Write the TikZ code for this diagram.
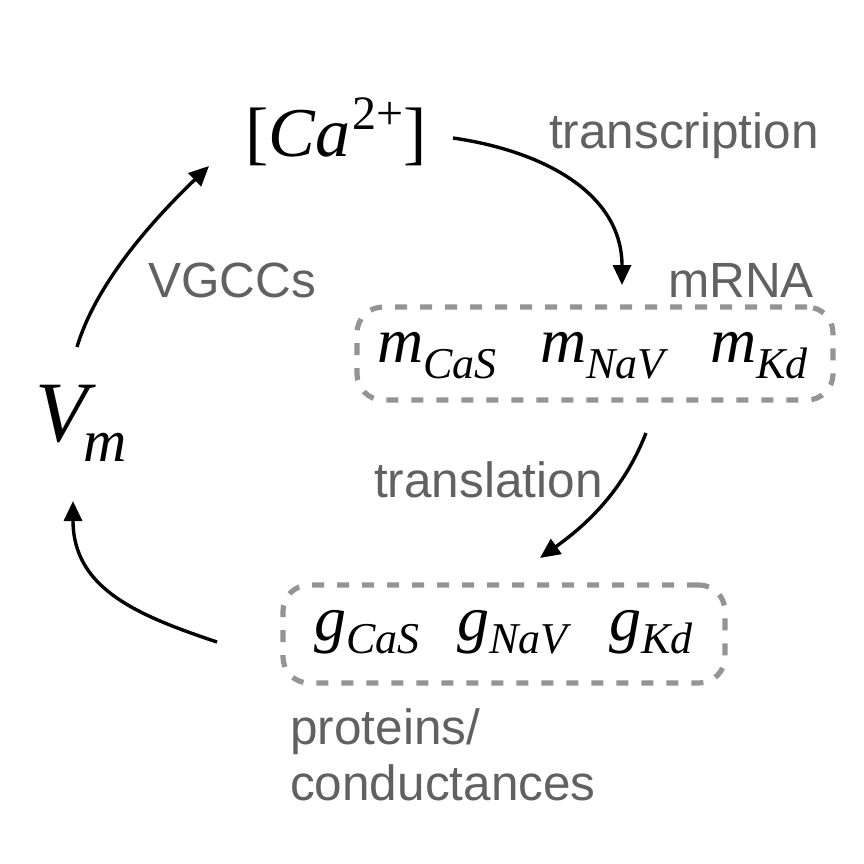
\documentclass[tikz,border=0pt]{standalone}
\usepackage{fontspec}
\setmainfont{Liberation Serif}
\newfontfamily\labfont{Liberation Sans}
\usetikzlibrary{arrows.meta}
\newcommand\mysymsub[3]{{\fontsize{64}{64}\selectfont\itshape #1\raisebox{-#3}{\fontsize{44}{44}\selectfont\itshape #2}}}
\begin{document}
\begin{tikzpicture}[x=1pt,y=-1pt,
  lbl/.style={anchor=base west, inner sep=0pt, text=black!62, font=\labfont\fontsize{49.5}{49.5}\selectfont},
  sym/.style={anchor=base west, inner sep=0pt},
  grp/.style={draw=black!42, line width=5.2pt, dash pattern=on 12pt off 13pt, rounded corners=26pt, inner sep=0pt},
  flow/.style={-{Triangle[length=20pt,width=18pt]}, line width=3.4pt, black}
]
\useasboundingbox (0,0) rectangle (864,864);

% main symbols
\node[sym] (ca) at (245,156) {\fontsize{70}{70}\selectfont [\textit{Ca}\kern2pt\raisebox{27pt}{\fontsize{48}{48}\selectfont 2+}]};
\node[sym] (vm) at (35,441) {\fontsize{86}{86}\selectfont\itshape V\kern-4pt\raisebox{-20pt}{\fontsize{60}{60}\selectfont\itshape m}};

% mRNA group
\node[grp, minimum width=476pt, minimum height=93pt] (mbox) at (595,353.5) {};
\node[sym] (mcas) at (377,362) {\mysymsub{m}{CaS}{16pt}};
\node[sym] (mnav) at (540,362) {\mysymsub{m}{NaV}{16pt}};
\node[sym] (mkd)  at (710,362) {\mysymsub{m}{Kd}{16pt}};

% protein group
\node[grp, minimum width=442pt, minimum height=98pt] (gbox) at (504,634) {};
\node[sym] (gcas) at (314,640) {\mysymsub{g}{CaS}{13pt}};
\node[sym] (gnav) at (457,640) {\mysymsub{g}{NaV}{13pt}};
\node[sym] (gkd)  at (609,640) {\mysymsub{g}{Kd}{13pt}};

% labels
\node[lbl] (ltrans) at (549,148) {transcription};
\node[lbl] (lvgcc)  at (148,297) {VGCCs};
\node[lbl] (lmrna)  at (668,297) {mRNA};
\node[lbl] (ltransl) at (374,497) {translation};
\node[lbl] (lprot)  at (290,744) {proteins/};
\node[lbl] (lcond)  at (290,800) {conductances};

% connector end points
\coordinate (a1s) at (77,347);
\coordinate (a1e) at (209,166);
\coordinate (a2s) at (453,138);
\coordinate (a2e) at (622,285);
\coordinate (a3s) at (646,433);
\coordinate (a3e) at (540,558);
\coordinate (a4s) at (217,642);
\coordinate (a4e) at (73,501);

\draw[flow] (a1s) .. controls (97,280) and (158,215) .. (a1e);
\draw[flow] (a2s) .. controls (543,151) and (622,193) .. (a2e);
\draw[flow] (a3s) .. controls (624,489) and (589,523) .. (a3e);
\draw[flow] (a4s) .. controls (136,615) and (73,588) .. (a4e);
\end{tikzpicture}
\end{document}
